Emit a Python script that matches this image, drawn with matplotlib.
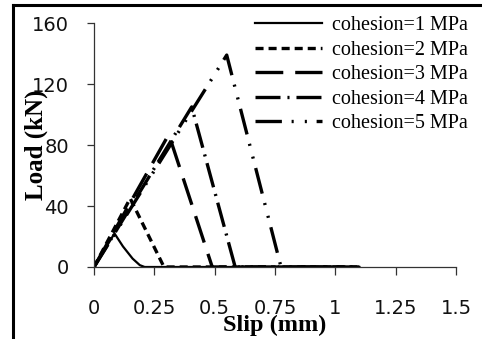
from matplotlib import pyplot as plt
from matplotlib.lines import Line2D
import numpy as np

# load-slip curves (slip in mm, load in kN)
slip_c1 = [0.0, 0.085, 0.12, 0.16, 0.19, 0.21, 1.10]
load_c1 = [0.0, 22.0, 13.5, 5.5, 1.2, 0.0, 0.0]
slip_c2 = [0.0, 0.15, 0.29, 1.10]
load_c2 = [0.0, 45.0, 0.0, 0.0]
slip_c3 = [0.0, 0.31, 0.49, 1.10]
load_c3 = [0.0, 87.0, 0.0, 0.0]
slip_c4 = [0.0, 0.405, 0.585, 1.10]
load_c4 = [0.0, 105.0, 0.0, 0.0]
slip_c5 = [0.0, 0.55, 0.775, 1.10]
load_c5 = [0.0, 139.0, 0.0, 0.0]

labels = ['cohesion=1 MPa', 'cohesion=2 MPa', 'cohesion=3 MPa',
          'cohesion=4 MPa', 'cohesion=5 MPa']
xticks = [0, 0.25, 0.5, 0.75, 1, 1.25, 1.5]
xticklabels = ['0', '0.25', '0.5', '0.75', '1', '1.25', '1.5']
yticks = [0, 40, 80, 120, 160]

plt.rcParams['lines.scale_dashes'] = False

fig = plt.figure(figsize=(4.82, 3.39), dpi=100)
ax = fig.add_axes([0.195, 0.2124, 0.751, 0.7196])

lw = 2.4
ax.plot(slip_c1, load_c1, color='black', lw=1.6, ls='-', label=labels[0])
ax.plot(slip_c2, load_c2, color='black', lw=lw, dashes=(5.8, 3.6), label=labels[1])
ax.plot(slip_c3, load_c3, color='black', lw=lw, dashes=(20, 8.6), label=labels[2])
ax.plot(slip_c4, load_c4, color='black', lw=lw, dashes=(18, 5, 1.5, 5), label=labels[3])
ax.plot(slip_c5, load_c5, color='black', lw=lw, dashes=(19, 7, 1.5, 8, 1.5, 7), label=labels[4])

ax.set_xlim(0, 1.5)
ax.set_ylim(0, 160)
ax.set_xticks(xticks)
ax.set_xticklabels(xticklabels)
ax.set_yticks(yticks)
for s in ['top', 'right']:
    ax.spines[s].set_visible(False)
for s in ['left', 'bottom']:
    ax.spines[s].set_linewidth(0.9)
    ax.spines[s].set_color('#333333')
ax.tick_params(axis='x', direction='out', length=6, width=0.9, pad=17,
               labelsize=14, colors='#333333', labelcolor='#111111')
ax.tick_params(axis='y', direction='out', length=5, width=0.9, pad=13,
               labelsize=14, colors='#333333', labelcolor='#111111')
for t in ax.get_xticklabels() + ax.get_yticklabels():
    t.set_family('DejaVu Sans')

fig.text(0.569, 0.04, 'Slip (mm)', ha='center', va='center',
         family='Liberation Serif', weight='bold', fontsize=17.5)
fig.text(0.075, 0.573, 'Load (kN)', ha='center', va='center', rotation=90,
         family='Liberation Serif', weight='bold', fontsize=18)

leg = fig.legend(loc='upper left', bbox_to_anchor=(255/482, 1 - 16/339),
                 frameon=False, prop={'family': 'Liberation Serif', 'size': 14.5},
                 handlelength=3.33, handletextpad=0.5, labelspacing=0.27,
                 borderpad=0, borderaxespad=0)

# frame round the picture (only left and top edges show)
bx = 12.5/482
by = 1 - 4.5/339
fig.add_artist(Line2D([bx, bx], [0, by], color='black', lw=2.2,
                      transform=fig.transFigure, solid_capstyle='projecting'))
fig.add_artist(Line2D([bx, 1], [by, by], color='black', lw=2.2,
                      transform=fig.transFigure, solid_capstyle='projecting'))

plt.savefig('out.png', dpi=100)
